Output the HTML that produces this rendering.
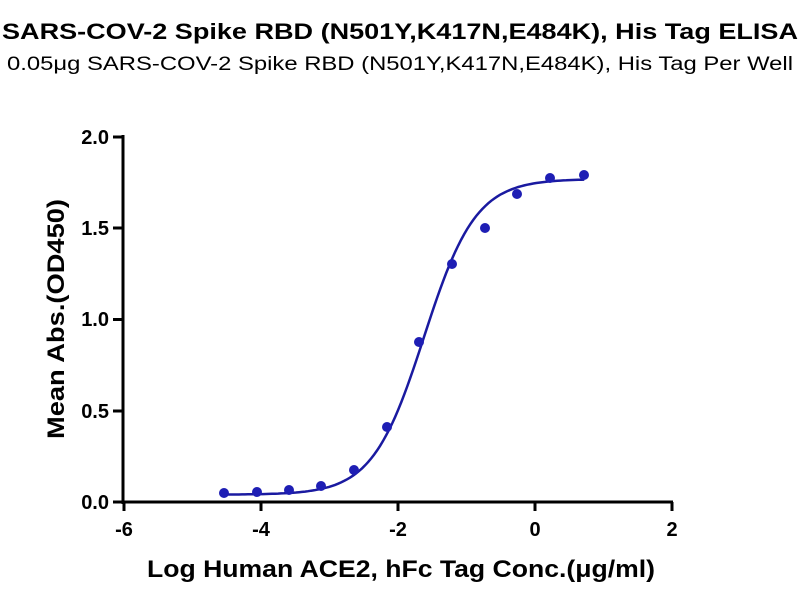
<!DOCTYPE html>
<html><head><meta charset="utf-8"><style>
body{margin:0;background:#fff;width:800px;height:600px;overflow:hidden}
text{font-family:"Liberation Sans",Arial,sans-serif}
</style></head><body>
<svg id="s" width="800" height="600" xmlns="http://www.w3.org/2000/svg">
<text x="400" y="39" text-anchor="middle" font-size="22" font-weight="bold" textLength="796" lengthAdjust="spacingAndGlyphs">SARS-COV-2 Spike RBD (N501Y,K417N,E484K), His Tag ELISA</text>
<text x="400" y="70" text-anchor="middle" font-size="19" textLength="786" lengthAdjust="spacingAndGlyphs">0.05μg SARS-COV-2 Spike RBD (N501Y,K417N,E484K), His Tag Per Well</text>
<g stroke="#000" stroke-width="3" fill="none">
<line x1="123" y1="135" x2="123" y2="504"/>
<line x1="121.5" y1="502" x2="673" y2="502"/>
<line x1="113" y1="137" x2="123" y2="137"/>
<line x1="113" y1="228" x2="123" y2="228"/>
<line x1="113" y1="319.5" x2="123" y2="319.5"/>
<line x1="113" y1="411" x2="123" y2="411"/>
<line x1="113" y1="502" x2="123" y2="502"/>
<line x1="124" y1="502" x2="124" y2="511"/>
<line x1="261" y1="502" x2="261" y2="511"/>
<line x1="398" y1="502" x2="398" y2="511"/>
<line x1="535" y1="502" x2="535" y2="511"/>
<line x1="672" y1="502" x2="672" y2="511"/>
</g>
<g font-size="20" font-weight="bold" text-anchor="end">
<text x="109" y="144">2.0</text><text x="109" y="235">1.5</text><text x="109" y="326">1.0</text><text x="109" y="418">0.5</text><text x="109" y="509">0.0</text>
</g>
<g font-size="20" font-weight="bold" text-anchor="middle">
<text x="124" y="536">-6</text><text x="261" y="536">-4</text><text x="398" y="536">-2</text><text x="535" y="536">0</text><text x="672" y="536">2</text>
</g>
<text x="401" y="577" text-anchor="middle" font-size="24" font-weight="bold" textLength="508" lengthAdjust="spacingAndGlyphs">Log Human ACE2, hFc Tag Conc.(μg/ml)</text>
<text transform="translate(64,319) rotate(-90)" text-anchor="middle" font-size="24" font-weight="bold" textLength="240" lengthAdjust="spacingAndGlyphs">Mean Abs.(OD450)</text>
<path id="c" fill="none" stroke="#1a1aa0" stroke-width="2.5"/>
<g fill="#1e1eb4">
<circle cx="224" cy="493" r="5"/><circle cx="257" cy="492" r="5"/><circle cx="289" cy="490" r="5"/><circle cx="321" cy="486" r="5"/><circle cx="354" cy="470" r="5"/><circle cx="387" cy="427" r="5"/><circle cx="419" cy="342" r="5"/><circle cx="452" cy="264" r="5"/><circle cx="485" cy="228" r="5"/><circle cx="517" cy="194" r="5"/><circle cx="550" cy="178" r="5"/><circle cx="584" cy="175" r="5"/>
</g>
</svg>
<script>
var d="";for(var i=0;i<=120;i++){var x=-4.54+i*(0.72+4.54)/120;var y=0.04+1.73/(1+Math.pow(10,(-1.62-x)*1.15));var px=124+(x+6)*68.5,py=502-y*182.5;d+=(i?"L":"M")+px.toFixed(1)+","+py.toFixed(1);}
document.getElementById("c").setAttribute("d",d);
</script>
</body></html>
